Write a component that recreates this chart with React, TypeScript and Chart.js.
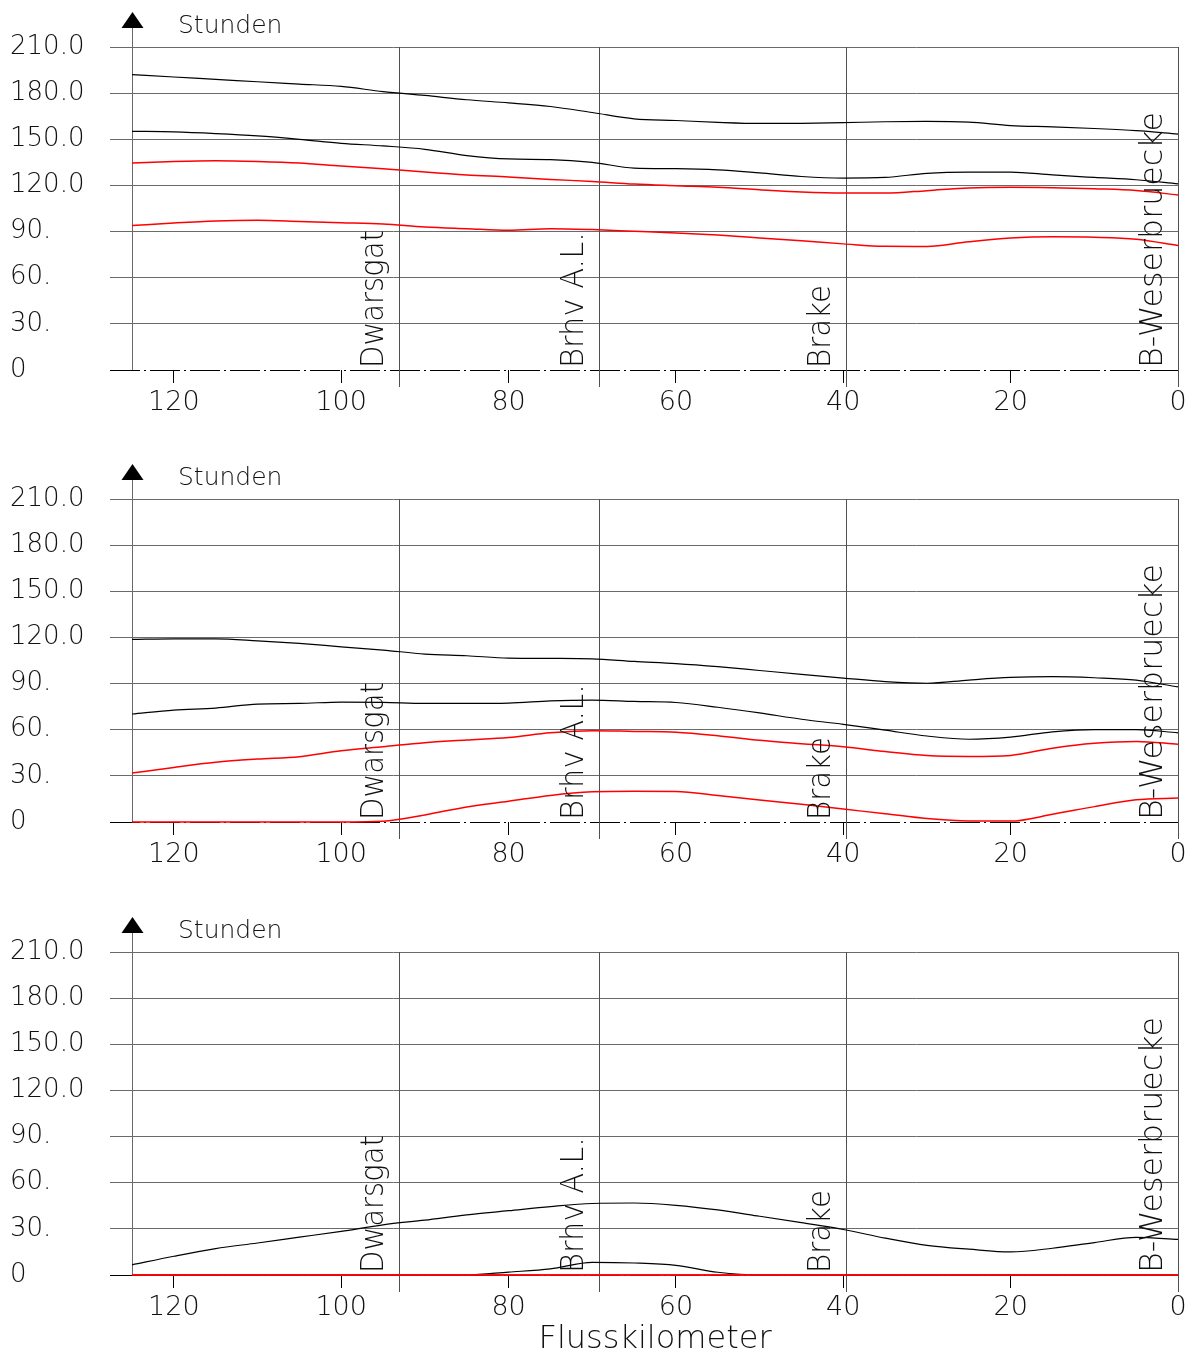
import { useEffect, useRef } from 'react';
import { Chart, registerables } from 'chart.js';

Chart.register(...registerables);

// ---------- data ----------
const KM = [125, 120, 115, 110, 105, 100, 95, 90, 85, 80, 75, 70, 65, 60, 55, 50, 45, 40, 35, 30, 25, 20, 15, 10, 5, 0];

const P1_BLACK_UPPER = [192.1, 190.5, 189.0, 187.4, 185.9, 184.4, 181.0, 178.5, 175.7, 173.7, 171.3, 167.4, 163.3, 162.2, 161.0, 160.3, 160.4, 160.8, 161.4, 161.6, 161.1, 158.9, 158.1, 157.0, 155.6, 153.4];
const P1_BLACK_LOWER = [155.2, 154.8, 153.7, 152.2, 150.0, 147.4, 145.7, 143.5, 139.4, 137.2, 136.8, 135.0, 131.3, 130.9, 130.1, 128.1, 125.8, 124.8, 125.2, 127.9, 128.7, 128.7, 126.8, 125.2, 123.7, 121.0];
const P1_RED_UPPER = [134.6, 135.6, 136.1, 135.6, 134.6, 132.6, 130.9, 128.7, 126.8, 125.5, 123.9, 122.6, 120.9, 119.8, 118.8, 117.2, 115.7, 115.0, 115.0, 116.6, 118.4, 118.8, 118.5, 117.8, 116.7, 113.8];
const P1_RED_LOWER = [93.9, 95.6, 96.9, 97.3, 96.6, 95.8, 94.9, 93.0, 91.9, 90.9, 91.9, 91.3, 90.2, 89.1, 87.7, 85.9, 84.0, 82.0, 80.4, 80.3, 83.4, 85.8, 86.6, 86.3, 85.0, 80.9];

const P2_BLACK_UPPER = [118.7, 119.1, 119.1, 117.8, 116.1, 113.9, 111.8, 109.2, 108.1, 106.6, 106.4, 106.1, 104.4, 103.0, 101.0, 98.5, 96.0, 93.6, 91.3, 90.2, 92.3, 94.0, 94.5, 93.8, 92.3, 87.8];
const P2_BLACK_LOWER = [70.2, 72.8, 74.1, 76.7, 77.1, 78.0, 77.8, 77.1, 77.1, 77.3, 78.8, 79.3, 78.4, 77.7, 74.6, 70.9, 66.8, 63.5, 59.7, 55.9, 53.8, 55.2, 58.6, 60.1, 60.1, 58.0];
const P2_RED_UPPER = [31.8, 35.5, 38.8, 40.9, 42.5, 46.4, 49.0, 51.6, 53.3, 55.0, 58.0, 59.4, 58.9, 58.4, 56.1, 53.1, 50.9, 48.9, 45.8, 43.2, 42.6, 43.3, 48.0, 51.2, 52.4, 50.6];
const P2_RED_LOWER = [0, 0, 0, 0, 0, 0, 0.5, 4.6, 9.8, 13.5, 17.3, 19.6, 20.0, 19.9, 17.3, 14.3, 11.5, 8.4, 5.4, 2.2, 0.6, 0.6, 5.0, 10.0, 14.5, 15.6];

const P3_BLACK_UPPER = [6.6, 12.2, 17.2, 20.8, 24.6, 28.4, 32.6, 35.7, 39.1, 41.8, 44.5, 46.5, 46.8, 45.3, 42.3, 38.2, 34.0, 29.6, 24.0, 19.3, 16.8, 15.0, 17.4, 21.1, 24.5, 23.1];
const P3_BLACK_LOWER = [0, 0, 0, 0, 0, 0, 0, 0, 0, 1.9, 4.0, 8.2, 7.8, 6.3, 1.8, 0, 0, 0, 0, 0, 0, 0, 0, 0, 0, 0];
const P3_RED_UPPER = [0, 0, 0, 0, 0, 0, 0, 0, 0, 0, 0, 0, 0, 0, 0, 0, 0, 0, 0, 0, 0, 0, 0, 0, 0, 0];
const P3_RED_LOWER = [0, 0, 0, 0, 0, 0, 0, 0, 0, 0, 0, 0, 0, 0, 0, 0, 0, 0, 0, 0, 0, 0, 0, 0, 0, 0];

const Y_TICKS = [0, 30, 60, 90, 120, 150, 180, 210];
const Y_TICK_LABELS = ['0', '30.', '60.', '90.', '120.0', '150.0', '180.0', '210.0'];
const X_TICKS = [0, 20, 40, 60, 80, 100, 120];

const STATION_KM = [93.1, 69.2, 39.7, 0];
const STATION_NAMES = ['Dwarsgat', 'Brhv A.L.', 'Brake', 'B-Weserbruecke'];

const Y_UNIT = 'Stunden';
const X_TITLE = 'Flusskilometer';

const PANELS = [
  { black: [P1_BLACK_UPPER, P1_BLACK_LOWER], red: [P1_RED_UPPER, P1_RED_LOWER] },
  { black: [P2_BLACK_UPPER, P2_BLACK_LOWER], red: [P2_RED_UPPER, P2_RED_LOWER] },
  { black: [P3_BLACK_UPPER, P3_BLACK_LOWER], red: [P3_RED_UPPER, P3_RED_LOWER] },
];

// ---------- style ----------
const WIDTH = 1194;
const PANEL_TOPS = [0, 452, 905];
const PANEL_HEIGHTS = [452, 453, 447];
const PLOT_BOTTOM = 370;
const FAMILY = "'DejaVu Sans', 'Liberation Sans', sans-serif";
const WEIGHT = '200';
const GRID = '#6a6a6a';
const STATION_LABEL_LEN = [138, 136, 83, 256];
const STATION_LABEL_OFFSET = -16;

function Panel({ index }: { index: number }) {
  const ref = useRef<HTMLCanvasElement | null>(null);
  const height = PANEL_HEIGHTS[index];

  useEffect(() => {
    const canvas = ref.current;
    if (!canvas) return;
    const series = PANELS[index];
    const isLast = index === PANELS.length - 1;

    const mk = (vals: number[], color: string, width: number) => ({
      data: KM.map((k, i) => ({ x: k, y: vals[i] })),
      borderColor: color,
      borderWidth: width,
      pointRadius: 0,
      fill: false,
      cubicInterpolationMode: 'monotone' as const,
      clip: 4,
    });

    const datasets = [
      ...series.red.map((v) => mk(v, '#ff0000', 1.5)),
      ...series.black.map((v) => mk(v, '#000000', 1.2)),
    ];

    const deco = {
      id: 'deco',
      beforeDatasetsDraw(chart: any) {
        const { ctx, chartArea: a, scales } = chart;
        const x = scales.x;
        const y = scales.y;
        ctx.save();
        // zero line, dash-dot
        const y0 = Math.round(y.getPixelForValue(0)) + 0.5;
        ctx.strokeStyle = '#000';
        ctx.lineWidth = 1;
        ctx.setLineDash([30, 4, 2, 4]);
        ctx.beginPath();
        ctx.moveTo(a.left - 22, y0);
        ctx.lineTo(a.right, y0);
        ctx.stroke();
        ctx.setLineDash([]);
        // station lines
        ctx.strokeStyle = '#505050';
        STATION_KM.forEach((km) => {
          const px = Math.round(x.getPixelForValue(km)) + 0.5;
          ctx.beginPath();
          ctx.moveTo(px, a.top);
          ctx.lineTo(px, a.bottom + 17);
          ctx.stroke();
        });
        // y axis line
        const ax = Math.round(a.left) + 0.5;
        ctx.strokeStyle = GRID;
        ctx.beginPath();
        ctx.moveTo(ax, 26);
        ctx.lineTo(ax, a.bottom);
        ctx.stroke();
        ctx.restore();
      },
      afterDatasetsDraw(chart: any) {
        const { ctx, chartArea: a, scales } = chart;
        const x = scales.x;
        ctx.save();
        ctx.fillStyle = '#111';
        // station labels
        ctx.font = `${WEIGHT} 30px ${FAMILY}`;
        ctx.textAlign = 'left';
        ctx.textBaseline = 'alphabetic';
        STATION_NAMES.forEach((name, i) => {
          const px = x.getPixelForValue(STATION_KM[i]);
          const w = ctx.measureText(name).width;
          ctx.save();
          ctx.translate(px + STATION_LABEL_OFFSET, a.bottom - 2);
          ctx.rotate(-Math.PI / 2);
          ctx.scale(STATION_LABEL_LEN[i] / w, 1.08);
          ctx.fillText(name, 0, 0);
          ctx.restore();
        });
        // arrow
        const ax = Math.round(a.left) + 0.5;
        ctx.fillStyle = '#000';
        ctx.beginPath();
        ctx.moveTo(ax, 12);
        ctx.lineTo(ax - 11, 28);
        ctx.lineTo(ax + 11, 28);
        ctx.closePath();
        ctx.fill();
        // unit label
        ctx.fillStyle = '#111';
        ctx.font = `${WEIGHT} 25px ${FAMILY}`;
        ctx.fillText(Y_UNIT, 178, 33);
        ctx.restore();
      },
    };

    const chart = new Chart(canvas, {
      type: 'line',
      data: { datasets } as any,
      plugins: [deco],
      options: {
        animation: false,
        responsive: false,
        maintainAspectRatio: false,
        layout: { padding: { left: 10, right: 16, top: 47, bottom: 0 } },
        plugins: { legend: { display: false }, tooltip: { enabled: false }, title: { display: false } },
        scales: {
          x: {
            type: 'linear',
            reverse: true,
            min: 0,
            max: 125,
            afterBuildTicks: (s: any) => {
              s.ticks = X_TICKS.map((v) => ({ value: v }));
            },
            afterFit: (s: any) => {
              s.height = height - PLOT_BOTTOM;
              s.paddingLeft = 0;
              s.paddingRight = 0;
            },
            grid: { drawOnChartArea: false, drawTicks: true, tickLength: 13, color: '#000', lineWidth: 1 },
            border: { display: false },
            ticks: {
              autoSkip: false,
              maxRotation: 0,
              padding: 4,
              color: '#111',
              font: { family: FAMILY, size: 27, weight: WEIGHT as any },
              callback: (v: any) => String(v),
            },
            title: {
              display: isLast,
              text: X_TITLE,
              color: '#111',
              padding: 0,
              font: { family: FAMILY, size: 32, weight: WEIGHT as any, lineHeight: 0.8 },
            },
          },
          y: {
            type: 'linear',
            min: 0,
            max: 210,
            afterBuildTicks: (s: any) => {
              s.ticks = Y_TICKS.map((v) => ({ value: v }));
            },
            afterFit: (s: any) => {
              s.width = 122;
            },
            grid: {
              drawTicks: true,
              tickLength: 22,
              lineWidth: 1,
              color: (c: any) => (c.tick && c.tick.value === 0 ? 'rgba(0,0,0,0)' : GRID),
            },
            border: { display: false },
            ticks: {
              autoSkip: false,
              crossAlign: 'far',
              padding: 0,
              color: '#111',
              font: { family: FAMILY, size: 26, weight: WEIGHT as any },
              callback: (v: any) => {
                const i = Y_TICKS.indexOf(Number(v));
                return i >= 0 ? Y_TICK_LABELS[i] : '';
              },
            },
          },
        },
      } as any,
    });
    return () => chart.destroy();
  }, [index, height]);

  return (
    <canvas
      ref={ref}
      width={WIDTH}
      height={height}
      style={{ position: 'absolute', left: 0, top: PANEL_TOPS[index], width: WIDTH, height, display: 'block' }}
    />
  );
}

export default function App() {
  return (
    <div style={{ position: 'absolute', left: 0, top: 0, width: WIDTH, height: 1352, overflow: 'hidden', background: '#fff' }}>
      {PANELS.map((_, i) => (
        <Panel key={i} index={i} />
      ))}
    </div>
  );
}
